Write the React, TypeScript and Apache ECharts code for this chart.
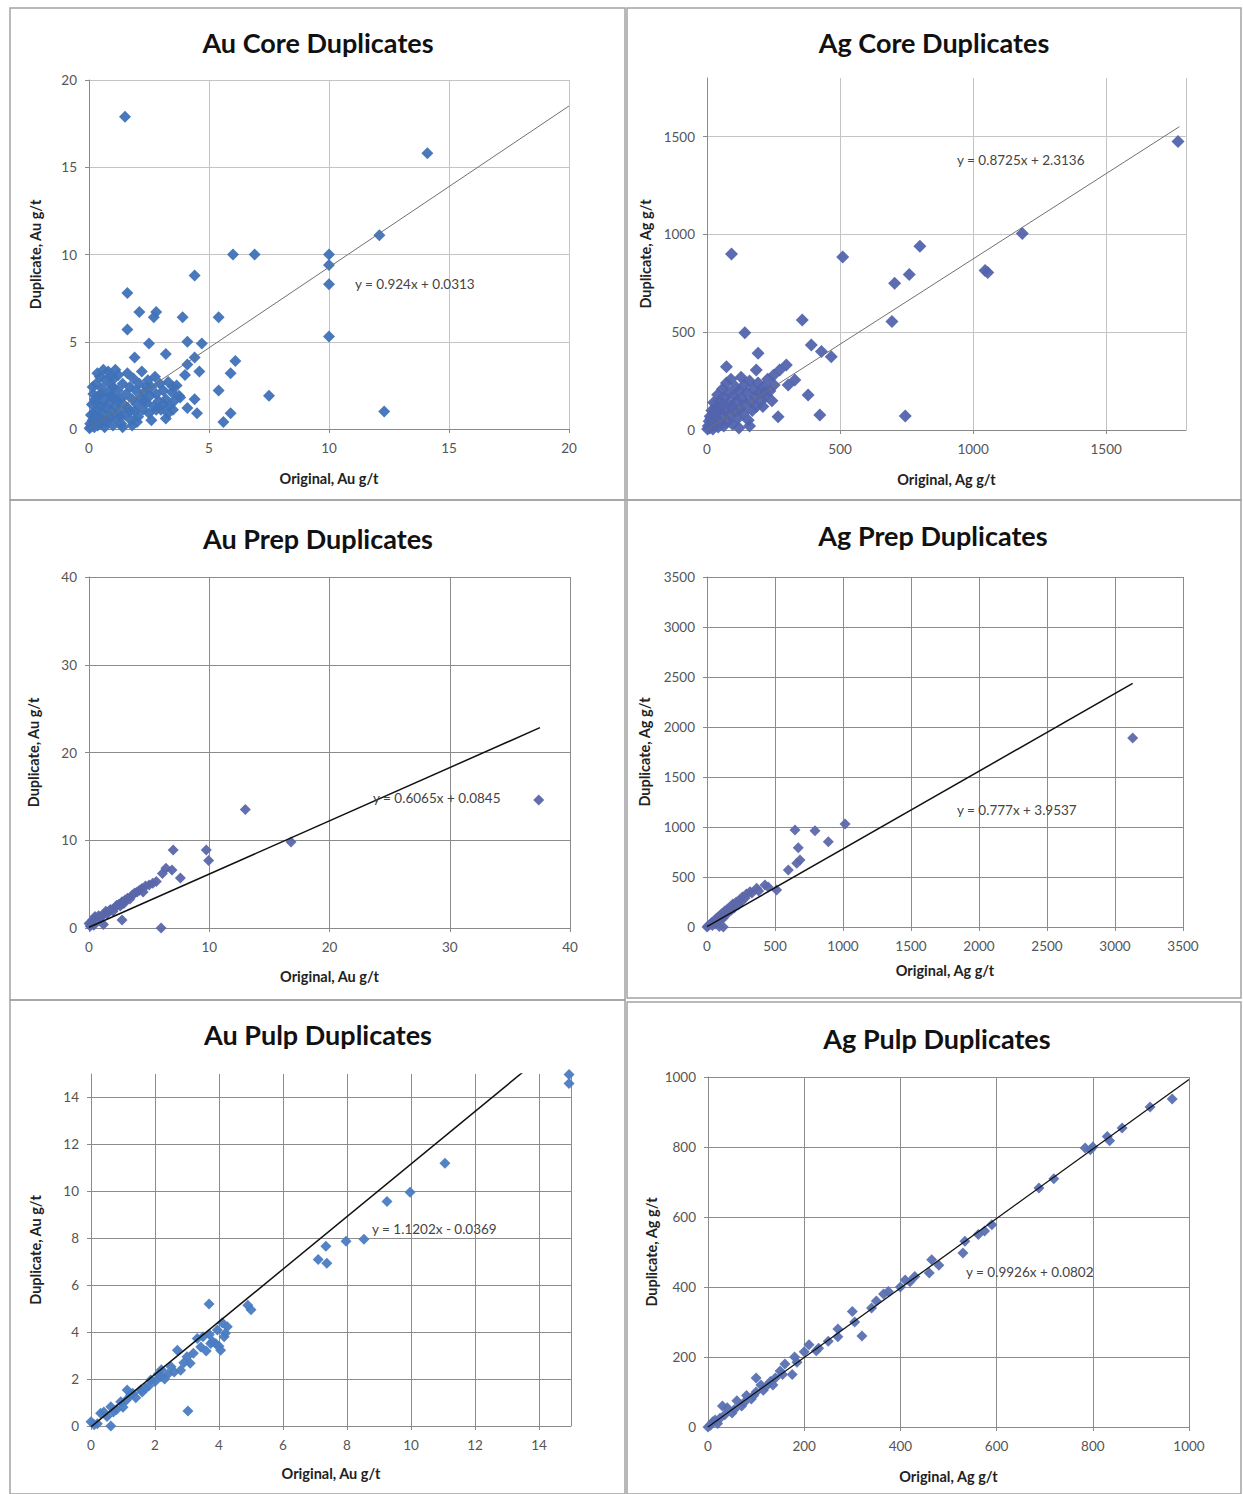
import React, { useEffect, useRef } from "react";
import * as echarts from "echarts";

// ---------- DATA ----------
const titles = [
  "Au Core Duplicates",
  "Ag Core Duplicates",
  "Au Prep Duplicates",
  "Ag Prep Duplicates",
  "Au Pulp Duplicates",
  "Ag Pulp Duplicates",
];
const xNames = ["Original, Au g/t", "Original, Ag g/t", "Original, Au g/t", "Original, Ag g/t", "Original, Au g/t", "Original, Ag g/t"];
const yNames = ["Duplicate, Au g/t", "Duplicate, Ag g/t", "Duplicate, Au g/t", "Duplicate, Ag g/t", "Duplicate, Au g/t", "Duplicate, Ag g/t"];
const equations = [
  "y = 0.924x + 0.0313",
  "y = 0.8725x + 2.3136",
  "y = 0.6065x + 0.0845",
  "y = 0.777x + 3.9537",
  "y = 1.1202x - 0.0369",
  "y = 0.9926x + 0.0802",
];
const slopes = [0.924, 0.8725, 0.6065, 0.777, 1.1202, 0.9926];
const intercepts = [0.0313, 2.3136, 0.0845, 3.9537, -0.0369, 0.0802];
const trendEndX = [20, 1775, 37.5, 3130, 15, 1000];
const axisMax = [20, 1800, 40, 3500, 15, 1000];
const axisInterval = [5, 500, 10, 500, 2, 200];

const auCore: number[][] = [
  [1.5, 17.9], [14.1, 15.8], [12.1, 11.1], [10, 10], [10, 9.4], [10, 8.3], [10, 5.3], [6.0, 10], [6.9, 10],
  [4.4, 8.8], [1.6, 7.8], [1.6, 5.7], [2.1, 6.7], [2.8, 6.7], [2.7, 6.4], [3.9, 6.4], [5.4, 6.4], [2.5, 4.9],
  [4.1, 5.0], [4.7, 4.9], [3.2, 4.3], [4.4, 4.1], [4.1, 3.7], [6.1, 3.9], [5.9, 3.2], [4.6, 3.3], [4.0, 3.1],
  [1.9, 4.1], [5.4, 2.2], [7.5, 1.9], [4.4, 1.7], [4.5, 0.9], [4.1, 1.2], [5.9, 0.9], [5.6, 0.4], [3.2, 0.6],
  [3.5, 2.4], [3.8, 1.8], [12.3, 1.0],
  [0.02, 0.05], [0.05, 0.3], [0.08, 0.8], [0.1, 0.15], [0.12, 1.4], [0.15, 0.5], [0.18, 2.0], [0.2, 0.9],
  [0.22, 0.1], [0.25, 1.7], [0.28, 0.4], [0.3, 2.6], [0.33, 1.1], [0.36, 0.2], [0.4, 1.9], [0.42, 0.7],
  [0.45, 3.0], [0.48, 1.3], [0.5, 0.3], [0.55, 2.3], [0.58, 0.9], [0.6, 1.6], [0.65, 0.1], [0.68, 2.8],
  [0.7, 1.2], [0.75, 0.5], [0.78, 2.0], [0.8, 3.3], [0.85, 1.5], [0.9, 0.7], [0.92, 2.5], [0.95, 1.0],
  [1.0, 0.2], [1.02, 1.8], [1.05, 2.9], [1.1, 1.3], [1.15, 0.6], [1.2, 2.2], [1.22, 3.1], [1.25, 1.0],
  [1.3, 1.7], [1.35, 0.3], [1.4, 2.6], [1.45, 1.4], [1.5, 0.8], [1.55, 2.0], [1.6, 3.2], [1.62, 1.2],
  [1.7, 2.4], [1.75, 0.5], [1.8, 1.7], [1.85, 2.9], [1.9, 1.0], [1.95, 2.2], [2.0, 1.4], [2.05, 0.7],
  [2.1, 2.6], [2.15, 1.8], [2.2, 3.3], [2.25, 1.1], [2.3, 2.1], [2.4, 1.5], [2.45, 2.8], [2.5, 0.9],
  [2.55, 1.9], [2.6, 2.4], [2.7, 1.3], [2.75, 3.0], [2.8, 2.0], [2.9, 1.6], [2.95, 2.6], [3.0, 1.1],
  [3.1, 2.2], [3.2, 1.7], [3.3, 2.7], [3.35, 1.3], [3.45, 2.1], [3.55, 1.6], [3.65, 2.5], [3.75, 1.9],
  [3.3, 0.9], [2.6, 0.5], [0.35, 3.2], [0.6, 3.4], [0.9, 3.0], [1.1, 3.4], [1.4, 0.1], [1.8, 0.2],
  [0.3, 1.5], [0.5, 2.0], [0.7, 0.4], [1.0, 2.4], [1.3, 0.7], [1.7, 1.0], [2.0, 0.4], [2.3, 1.6],
  [2.4, 2.4], [2.8, 1.1], [3.1, 1.4], [3.5, 1.1], [0.15, 2.4], [0.25, 0.6], [0.9, 1.9], [1.2, 1.6],
];

const agCore: number[][] = [
  [1770, 1475], [1185, 1005], [1045, 815], [1055, 805], [800, 940], [760, 795], [705, 750], [695, 555],
  [745, 72], [510, 885], [92, 900], [358, 563], [142, 497], [392, 435], [430, 401], [467, 375], [192, 393],
  [73, 324], [298, 333], [273, 307], [185, 307], [330, 256], [305, 230], [380, 179], [424, 77], [267, 68],
  [217, 196],
  [2, 5], [5, 20], [8, 45], [10, 10], [12, 70], [15, 30], [18, 100], [20, 55], [22, 5], [25, 140], [28, 80],
  [30, 25], [33, 115], [36, 60], [40, 180], [42, 15], [45, 95], [48, 150], [50, 40], [55, 120], [58, 210],
  [60, 70], [63, 20], [66, 165], [70, 100], [73, 240], [76, 45], [80, 135], [83, 190], [86, 80], [90, 260],
  [93, 120], [96, 30], [100, 175], [104, 95], [108, 220], [112, 150], [116, 60], [120, 200], [124, 110],
  [128, 270], [132, 160], [136, 85], [140, 230], [145, 130], [150, 190], [155, 50], [160, 250], [165, 145],
  [170, 100], [175, 210], [180, 170], [186, 120], [192, 240], [198, 190], [205, 150], [212, 220], [220, 175],
  [228, 260], [236, 200], [244, 150], [252, 230], [160, 20], [120, 10], [60, 130], [30, 90], [15, 60],
  [210, 120], [250, 280],
];

const auPrep: number[][] = [
  [37.4, 14.6], [13.0, 13.5], [16.8, 9.8], [6.0, 0], [7.0, 8.9], [9.75, 8.9], [9.95, 7.7], [6.4, 6.8],
  [6.9, 6.6], [7.6, 5.7], [6.1, 6.2], [5.0, 4.9], [5.3, 5.1], [4.4, 4.5], [4.7, 4.8], [3.6, 3.75], [4.0, 4.1],
  [2.75, 3.0], [3.2, 3.4], [2.2, 2.4], [2.5, 2.7], [1.4, 1.9], [1.7, 2.0], [0.5, 1.3], [0.8, 1.4], [0.0, 0.5],
  [0.1, 0.2], [0.2, 0.6], [0.3, 0.9], [0.4, 0.3], [0.6, 0.8], [0.9, 1.1], [1.0, 1.3], [1.2, 1.5], [1.5, 1.6],
  [1.8, 2.1], [2.0, 1.9], [2.3, 2.6], [2.6, 2.5], [2.9, 2.8], [3.0, 3.2], [3.4, 3.3], [3.8, 4.0], [4.2, 4.3],
  [4.5, 4.1], [2.75, 0.9], [1.2, 0.4], [5.6, 5.3],
];

const agPrep: number[][] = [
  [3130, 1890], [1015, 1030], [647, 970], [794, 963], [892, 853], [671, 793], [684, 670], [660, 637],
  [598, 570], [512, 370], [426, 420], [365, 387], [316, 353], [290, 330], [260, 300], [240, 270], [215, 250],
  [190, 230], [170, 200], [150, 180], [130, 160], [110, 135], [95, 115], [80, 100], [65, 80], [50, 60],
  [35, 45], [25, 30], [15, 20], [5, 8], [0, 0], [60, 30], [100, 70], [120, 90], [140, 120], [200, 190],
  [230, 220], [280, 290], [330, 340], [380, 360], [450, 400], [120, 0], [90, 5], [40, 15], [70, 50],
  [180, 170], [250, 250],
];

const auPulp: number[][] = [
  [14.94, 14.98], [14.94, 14.6], [11.06, 11.2], [9.97, 9.96], [9.25, 9.57], [8.53, 7.96], [7.97, 7.87],
  [7.34, 7.66], [7.1, 7.1], [7.37, 6.94], [4.9, 5.15], [5.0, 4.95], [3.69, 5.2], [3.03, 0.64], [4.26, 4.23],
  [3.95, 4.09], [4.16, 3.8], [3.74, 3.52], [3.43, 3.37], [4.05, 3.23], [3.32, 3.73], [3.0, 2.95], [2.8, 2.38],
  [3.1, 2.67], [2.7, 3.23], [2.5, 2.52], [2.18, 2.1], [1.87, 1.96], [1.55, 1.53], [1.24, 1.32], [0.93, 1.03],
  [0.62, 0.82], [0.3, 0.54], [0.0, 0.18], [0.62, 0.0], [1.13, 1.53], [3.9, 3.5], [4.1, 4.4], [3.6, 3.2],
  [3.8, 3.6], [4.2, 3.95], [3.5, 3.8], [3.2, 3.1], [2.9, 2.7], [2.6, 2.3], [2.4, 2.2], [2.2, 2.4], [2.0, 1.9],
  [1.8, 1.7], [1.7, 1.6], [1.4, 1.2], [1.1, 1.1], [1.0, 0.8], [0.8, 0.7], [0.5, 0.4], [0.2, 0.1], [0.1, 0.05],
  [0.4, 0.6], [0.7, 0.6], [1.3, 1.4], [1.6, 1.45], [2.3, 2.0], [2.1, 2.2], [4.0, 3.4], [3.7, 3.9],
];

const agPulp: number[][] = [
  [965, 937], [919, 914], [861, 854], [830, 830], [835, 818], [784, 797], [795, 792], [800, 800], [719, 709],
  [688, 683], [590, 578], [575, 560], [562, 550], [534, 531], [530, 497], [480, 462], [465, 478], [460, 440],
  [430, 430], [420, 415], [410, 420], [400, 400], [375, 387], [365, 380], [350, 360], [340, 340], [300, 330],
  [305, 300], [320, 260], [270, 280], [270, 258], [250, 245], [230, 225], [210, 235], [200, 215], [180, 200],
  [175, 150], [160, 180], [150, 160], [140, 140], [130, 130], [120, 115], [110, 120], [100, 140], [100, 100],
  [90, 80], [80, 90], [70, 60], [60, 75], [50, 40], [40, 55], [30, 60], [25, 25], [20, 10], [10, 15], [5, 5],
  [0, 0], [225, 218], [185, 185], [155, 150], [135, 120], [115, 105], [95, 90], [75, 70], [55, 50], [35, 35],
  [15, 20],
];

const datasets = [auCore, agCore, auPrep, agPrep, auPulp, agPulp];

// ---------- LAYOUT / STYLE ----------
const grids = [
  { left: 89, top: 80, width: 480, height: 349 },
  { left: 707, top: 78, width: 479, height: 352 },
  { left: 89, top: 577, width: 481, height: 351 },
  { left: 707, top: 577, width: 476, height: 350 },
  { left: 91, top: 1074, width: 480, height: 352 },
  { left: 708, top: 1077, width: 481, height: 350 },
];
const boxes = [
  { x: 10, y: 8, w: 615, h: 492 },
  { x: 627, y: 8, w: 614, h: 492 },
  { x: 10, y: 500, w: 615, h: 500 },
  { x: 627, y: 500, w: 614, h: 498 },
  { x: 10, y: 1000, w: 615, h: 494 },
  { x: 627, y: 1002, w: 614, h: 492 },
];
const titlePos = [
  [318, 42], [934, 42], [318, 538], [933, 535], [318, 1034], [937, 1038],
];
const eqPos = [
  [355, 284], [957, 160], [373, 798], [957, 810], [372, 1229], [966, 1272],
];
const yNameGap = [46, 54, 48, 55, 48, 49];
const xNameGap = [42, 42, 41, 36, 40, 42];
const gridColors = ["#c4c4c4", "#c4c4c4", "#8c8c8c", "#8c8c8c", "#8c8c8c", "#8c8c8c"];
const markerColors = ["#3f72b8", "#5264ad", "#5a66aa", "#5d68aa", "#4a7cc2", "#5870b2"];
const markerSizes = [12, 13, 11, 11, 11, 11];
const trendColors = ["#707070", "#707070", "#111111", "#111111", "#111111", "#111111"];
const trendWidths = [1, 1, 1.5, 1.5, 1.5, 1.3];
const hideMax = [false, true, false, false, true, false];

const FONT = "Lato, 'Liberation Sans', sans-serif";

function buildOption() {
  const xAxis: any[] = [];
  const yAxis: any[] = [];
  const series: any[] = [];
  const graphic: any[] = [];

  for (let i = 0; i < 6; i++) {
    const common = {
      type: "value",
      gridIndex: i,
      min: 0,
      max: axisMax[i],
      interval: axisInterval[i],
      nameLocation: "middle",
      nameTextStyle: { fontFamily: FONT, fontWeight: "bold", fontSize: 14.5, color: "#222" },
      axisLine: { show: true, lineStyle: { color: "#8a8a8a", width: 1 } },
      axisTick: { show: true, length: 4, lineStyle: { color: "#8a8a8a" } },
      axisLabel: {
        fontFamily: FONT,
        fontSize: 13.5,
        color: "#555",
        showMaxLabel: !hideMax[i],
        formatter: (v: number) => String(v),
      },
      splitLine: {
        show: true,
        lineStyle: { color: gridColors[i], width: 1 },
      },
    };
    xAxis.push({
      ...common,
      name: xNames[i],
      nameGap: xNameGap[i],
      axisLabel: { ...common.axisLabel, margin: 12 },
    });
    yAxis.push({
      ...common,
      name: yNames[i],
      nameGap: yNameGap[i],
      axisLabel: { ...common.axisLabel, margin: 12 },
      splitLine: { ...common.splitLine, showMaxLine: !hideMax[i] },
    });

    series.push({
      type: "scatter",
      xAxisIndex: i,
      yAxisIndex: i,
      symbol: "diamond",
      symbolSize: markerSizes[i],
      itemStyle: { color: markerColors[i], opacity: 0.95 },
      data: datasets[i],
      z: 2,
    });
    const x1 = trendEndX[i];
    series.push({
      type: "line",
      xAxisIndex: i,
      yAxisIndex: i,
      showSymbol: false,
      symbol: "none",
      clip: true,
      lineStyle: { color: trendColors[i], width: trendWidths[i] },
      data: [
        [0, intercepts[i]],
        [x1, slopes[i] * x1 + intercepts[i]],
      ],
      z: 3,
    });

    graphic.push({
      type: "rect",
      shape: { x: boxes[i].x, y: boxes[i].y, width: boxes[i].w, height: boxes[i].h },
      style: { fill: "none", stroke: "#a3a3a3", lineWidth: 1.5 },
      silent: true,
      z: -1,
    });
    graphic.push({
      type: "text",
      x: titlePos[i][0],
      y: titlePos[i][1],
      style: {
        text: titles[i],
        fontFamily: FONT,
        fontWeight: "bold",
        fontSize: 27,
        fill: "#111",
        textAlign: "center",
        textVerticalAlign: "middle",
      },
    });
    graphic.push({
      type: "text",
      x: eqPos[i][0],
      y: eqPos[i][1],
      style: {
        text: equations[i],
        fontFamily: FONT,
        fontSize: 13.5,
        fill: "#444",
        textAlign: "left",
        textVerticalAlign: "middle",
      },
      z: 10,
    });
  }

  return {
    animation: false,
    backgroundColor: "#ffffff",
    grid: grids.map((g) => ({ ...g, containLabel: false })),
    xAxis,
    yAxis,
    series,
    graphic,
  };
}

export default function App() {
  const ref = useRef<HTMLDivElement>(null);
  useEffect(() => {
    document.body.style.margin = "0";
    const chart = echarts.init(ref.current!, undefined, { renderer: "svg" });
    chart.setOption(buildOption() as any);
    return () => chart.dispose();
  }, []);
  return <div ref={ref} style={{ width: 1243, height: 1494, background: "#fff" }} />;
}
